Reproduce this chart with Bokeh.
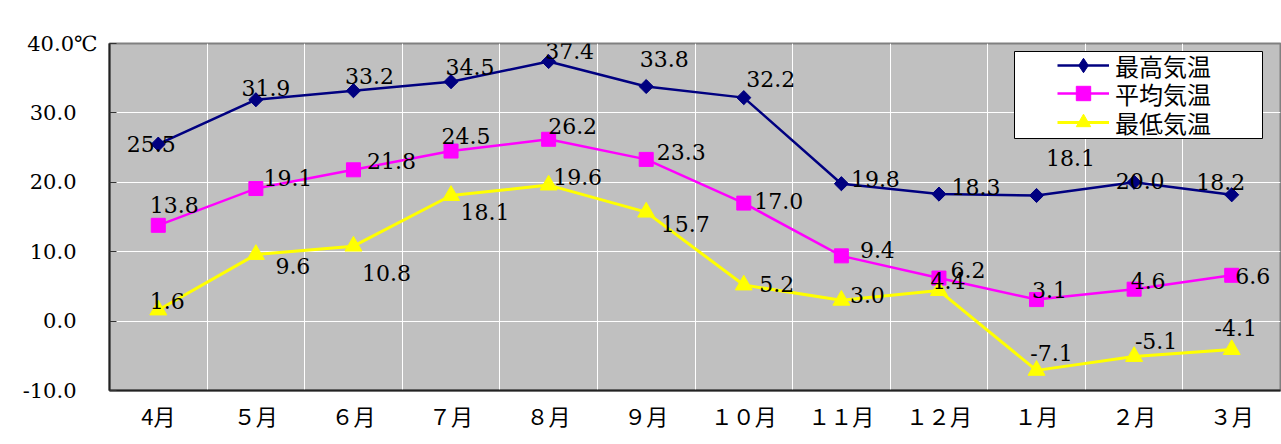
from bokeh.plotting import figure
from bokeh.models import (ColumnDataSource, FactorRange, Range1d, FixedTicker,
                          Legend, LegendItem, BoxAnnotation)
from bokeh.core.properties import value
from bokeh.embed import file_html
from bokeh.resources import INLINE

# ---- data ----
months = ["4月", "５月", "６月", "７月", "８月", "９月",
          "１０月", "１１月", "１２月", "１月", "２月", "３月"]
t_max = [25.5, 31.9, 33.2, 34.5, 37.4, 33.8, 32.2, 19.8, 18.3, 18.1, 20.0, 18.2]
t_avg = [13.8, 19.1, 21.8, 24.5, 26.2, 23.3, 17.0, 9.4, 6.2, 3.1, 4.6, 6.6]
t_min = [1.6, 9.6, 10.8, 18.1, 19.6, 15.7, 5.2, 3.0, 4.4, -7.1, -5.1, -4.1]
series_names = ["最高気温", "平均気温", "最低気温"]
y_ticks = [-10, 0, 10, 20, 30, 40]
unit_label = "℃"

# ---- label placement (screen px offsets, style only) ----
max_dx = [-7, 10, 16, 19, 21, 18, 27, 34, 37, 34, 6, -11]
max_dy = [0, -12, -15, -15, -11, -28, -19, -5, -7, -37, -1, -13]
avg_dx = [16, 32, 38, 15, 24, 35, 35, 36, 29, 13, 14, 21]
avg_dy = [-20, -11, -9, -15, -13, -7, -2, -6, -8, -10, -8, 1]
min_dx = [9, 37, 33, 34, 29, 39, 33, 26, 9, 15, 22, 4]
min_dy = [-9, 12, 27, 17, -8, 12, -1, -5, -10, -17, -15, -22]

colors = ["#000080", "#FF00FF", "#FFFF00"]

p = figure(x_range=FactorRange(*months), y_range=Range1d(-10, 40),
           width=1281, height=444, output_backend="svg", toolbar_location=None,
           min_border_left=109, min_border_right=1, min_border_top=43,
           min_border_bottom=54, background_fill_color="#C0C0C0",
           border_fill_color="white")
p.outline_line_color = "#808080"
p.outline_line_width = 2

# grids
p.xgrid.ticker = FixedTicker(ticks=list(range(1, len(months))))
p.xgrid.grid_line_color = "white"
p.xgrid.grid_line_width = 1
p.ygrid.grid_line_color = "white"
p.ygrid.grid_line_width = 1

# axes
p.yaxis.ticker = FixedTicker(ticks=y_ticks)
p.yaxis.major_label_overrides = {
    t: (f"{t:.1f}" + (unit_label if t == max(y_ticks) else "\u3000")) for t in y_ticks
}
p.yaxis.major_label_text_font = "DejaVu Serif"
p.yaxis.major_label_text_font_size = "21px"
p.yaxis.major_label_text_color = "black"
p.yaxis.major_label_standoff = 12
p.yaxis.major_tick_in = 7
p.yaxis.major_tick_out = 0
p.yaxis.minor_tick_line_color = None
p.yaxis.major_tick_line_color = "#333333"
p.yaxis.axis_line_color = "#222222"
p.yaxis.axis_line_width = 2

p.xaxis.major_label_text_font = "Noto Sans CJK JP"
p.xaxis.major_label_text_font_size = "22px"
p.xaxis.major_label_text_color = "black"
p.xaxis.major_label_standoff = 8
p.xaxis.major_tick_in = 0
p.xaxis.major_tick_out = 0
p.xaxis.axis_line_color = "#222222"
p.xaxis.axis_line_width = 2

# series
series = [t_max, t_avg, t_min]
markers = [("square", 10, 0.785398), ("square", 14, 0.0), ("triangle", 17, 0.0)]
widths = [2.5, 2.5, 3]
items = []
for i, (name, vals, col, (mk, sz, ang), lw) in enumerate(zip(series_names, series, colors,
                                                             markers, widths)):
    src = ColumnDataSource(dict(m=months, v=vals))
    lr = p.line("m", "v", source=src, line_color=col, line_width=lw)
    legend_marker = None
    if i == 0:
        # diamond drawn beneath the rotated squares; used as the legend symbol
        legend_marker = p.scatter("m", "v", source=src, marker="diamond", size=13,
                                  fill_color=col, line_color=col)
    sr = p.scatter("m", "v", source=src, marker=mk, size=sz, angle=ang,
                   fill_color=col, line_color=col)
    items.append(LegendItem(label=name, renderers=[lr, legend_marker or sr]))

# data labels
for vals, dx, dy in [(t_max, max_dx, max_dy), (t_avg, avg_dx, avg_dy), (t_min, min_dx, min_dy)]:
    src = ColumnDataSource(dict(m=months, v=vals, t=[f"{v:.1f}" for v in vals], dx=dx, dy=dy))
    p.text("m", "v", text="t", x_offset="dx", y_offset="dy", source=src,
           text_font=value("DejaVu Serif"), text_font_size="22px",
           text_align="center", text_baseline="middle", text_color="black")

# legend frame + one legend per row
p.add_layout(BoxAnnotation(left=905, right=1153, top=339, bottom=252,
                           left_units="screen", right_units="screen",
                           top_units="screen", bottom_units="screen",
                           fill_color="white", fill_alpha=1.0,
                           line_color="black", line_width=1, line_alpha=1.0))
for item, row_bottom in zip(items, [307, 279, 250]):
    lg = Legend(items=[item], location=(948, row_bottom), padding=0, spacing=0, margin=0,
                glyph_width=52, glyph_height=36, label_standoff=6,
                label_text_font="Noto Sans CJK JP", label_text_font_size="24px",
                label_text_color="black", background_fill_alpha=0,
                border_line_alpha=0)
    p.add_layout(lg, "center")

open("out.html", "w").write(file_html(p, INLINE))
